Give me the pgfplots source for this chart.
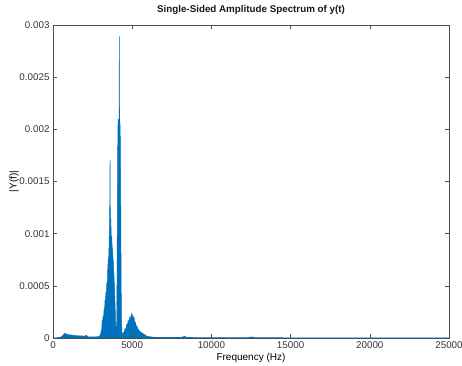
\documentclass[border=0pt]{standalone}
\usepackage{fontspec}
\setmainfont{Liberation Sans}
\usepackage{pgfplots}
\pgfplotsset{compat=1.18}
\definecolor{mblue}{rgb}{0,0.447,0.741}
\definecolor{axgray}{gray}{0.3}
\begin{document}
\begin{tikzpicture}
\path[use as bounding box] (-53pt,-27pt) rectangle (409pt,338pt);
\begin{axis}[
  at={(0,0)}, anchor=south west,
  scale only axis, width=396pt, height=313pt,
  xmin=0, xmax=25000, ymin=0, ymax=0.003,
  xtick={0,5000,10000,15000,20000,25000},
  ytick={0,0.0005,0.001,0.0015,0.002,0.0025,0.003},
  scaled x ticks=false, scaled y ticks=false,
  xticklabel style={/pgf/number format/set thousands separator={}, /pgf/number format/fixed},
  yticklabel style={/pgf/number format/fixed, /pgf/number format/precision=4},
  /pgf/number format/assume math mode=true,
  tick align=inside, major tick length=4pt,
  axis line style={axgray, line width=0.5pt},
  every tick/.style={axgray, line width=0.5pt},
  tick label style={font=\fontsize{9.8}{11}\selectfont, text=black!80},
  label style={font=\fontsize{9.8}{11}\selectfont, text=black!80},
  every axis title/.style={font=\bfseries\fontsize{9.8}{11}\selectfont, text=black!90, at={(axis description cs:0.5,1)}, yshift=15pt, anchor=center},
  title={Single-Sided Amplitude Spectrum of y(t)},
  xlabel={Frequency (Hz)},
  ylabel={|Y(f)|},
  every axis x label/.style={at={(axis description cs:0.5,0)}, yshift=-20pt, anchor=center},
  every axis y label/.style={at={(axis description cs:0,0.5)}, xshift=-39pt, rotate=90, anchor=center},
  axis on top,
]
\addplot[fill=mblue, draw=mblue, line width=0.5pt] coordinates {
(0,0) (300,0.000003) (500,0.00001) (600,0.00002) (650,0.00003) (700,0.00004) (750,0.000045)
(800,0.00004) (900,0.000035) (1000,0.00003) (1100,0.00003) (1300,0.000025) (1500,0.000022)
(1800,0.00002) (2000,0.000018) (2100,0.000026) (2200,0.000012) (2400,0.000011) (2600,0.00001)
(2800,0.000012) (2900,0.000015)
(3000,0.00003) (3050,0.00007) (3080,0.00005) (3100,0.00017) (3130,0.00014) (3160,0.00020)
(3190,0.00018) (3220,0.00026) (3250,0.00023) (3280,0.00036) (3310,0.00033) (3340,0.00044)
(3370,0.00041) (3400,0.00054) (3430,0.00050) (3460,0.00068) (3490,0.00075) (3520,0.00072)
(3545,0.00095) (3570,0.00105) (3590,0.0014) (3600,0.00171) (3610,0.0013) (3630,0.00110)
(3650,0.00115) (3670,0.00100) (3690,0.00095) (3710,0.00097) (3730,0.00088) (3755,0.00085)
(3780,0.00078) (3800,0.00075) (3825,0.00066) (3850,0.00060) (3880,0.00048) (3910,0.00036)
(3940,0.00022) (3965,0.0001) (3985,0.00003) (4010,0.00003)
(4030,0.0002) (4050,0.0008) (4070,0.0014) (4090,0.0019) (4110,0.0021) (4140,0.00205)
(4170,0.0021) (4187,0.00289) (4200,0.0021) (4230,0.00205) (4250,0.0019) (4280,0.0012)
(4300,0.0006) (4320,0.0002) (4350,0.00006) (4400,0.00003) (4450,0.00005) (4500,0.00006) (4550,0.00009)
(4600,0.00008) (4650,0.00013) (4700,0.00012) (4750,0.00017) (4800,0.00015) (4850,0.00020)
(4900,0.00018) (4950,0.00023) (4990,0.00020) (5030,0.00022) (5070,0.00019) (5110,0.00020)
(5150,0.00016) (5200,0.00015) (5250,0.00012) (5300,0.00011) (5350,0.00009) (5400,0.00008)
(5500,0.00006) (5600,0.00005) (5700,0.00004) (5800,0.00003) (5900,0.00002) (6000,0.000015)
(6200,0.00001) (6500,0.000007) (7000,0.000005) (7500,0.000005) (8000,0.000006)
(8200,0.00001) (8300,0.000016) (8400,0.000008) (9000,0.000003) (12300,0.000003)
(12500,0.00001) (12650,0.000008) (12800,0.000003) (16000,0.000002) (25000,0.000001)
} \closedcycle;
\end{axis}
\end{tikzpicture}
\end{document}
